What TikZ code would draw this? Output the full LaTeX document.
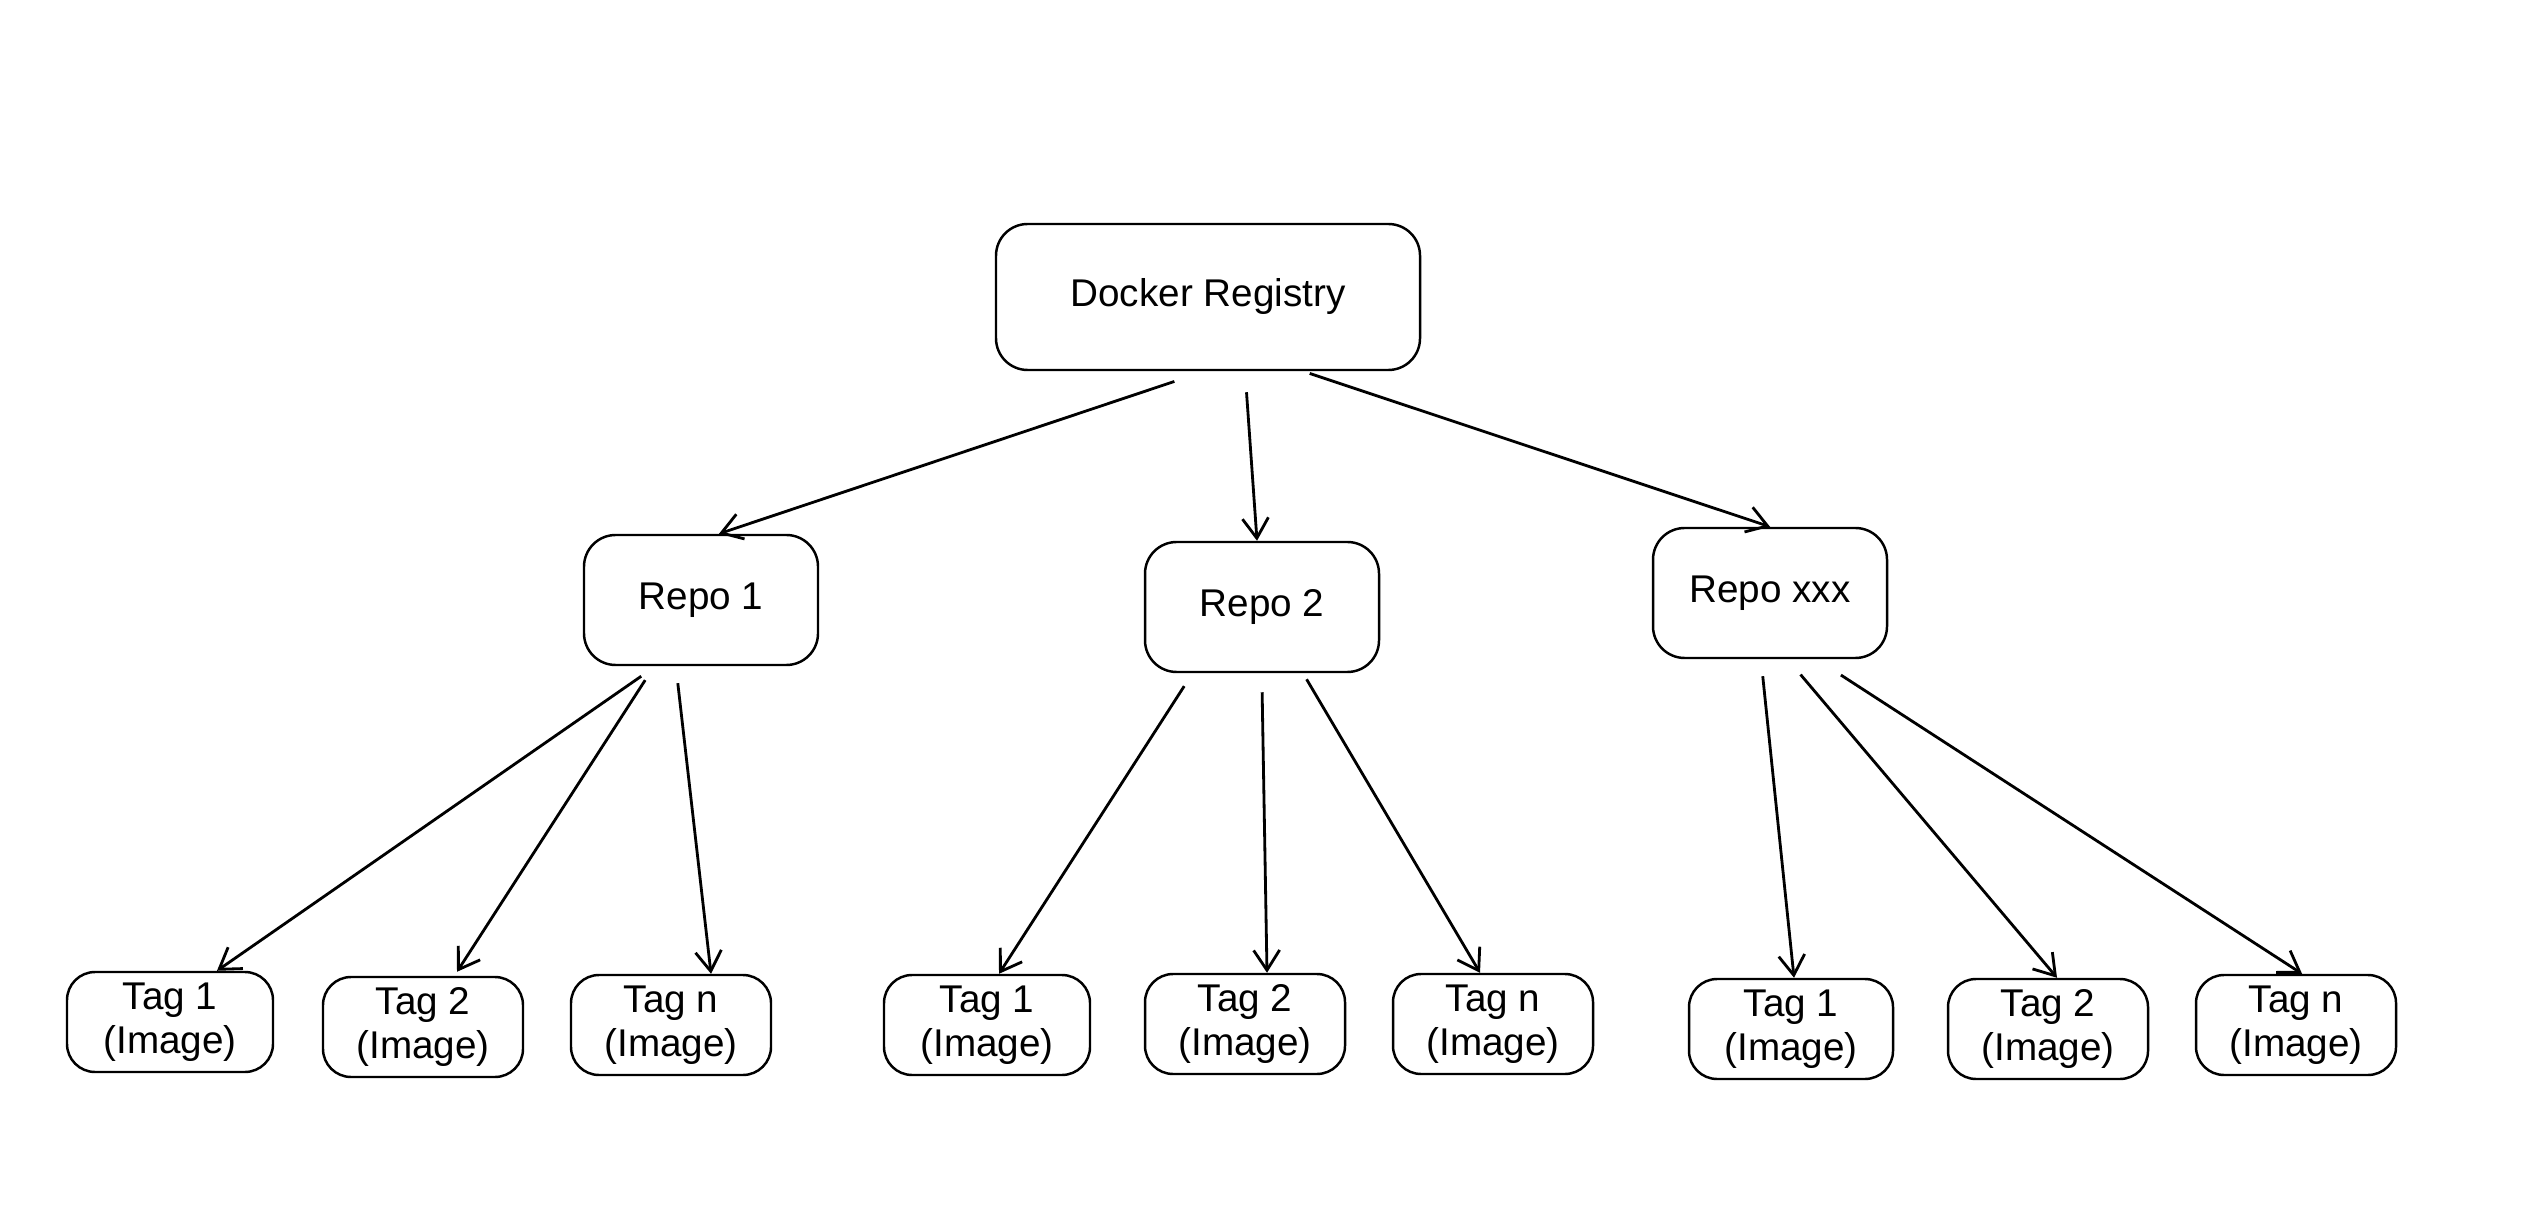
\documentclass[tikz,border=0pt]{standalone}
\usepackage{fontspec}
\setmainfont{Liberation Sans}
\usetikzlibrary{arrows.meta}
\tikzset{
  box/.style={draw, line width=0.7pt, rounded corners=9pt, align=center,
    font=\fontsize{11}{12.5}\selectfont},
  repobox/.style={box, minimum width=2.34cm, minimum height=1.3cm},
  tagbox/.style={box, rounded corners=8pt, minimum width=2cm, minimum height=1cm, inner sep=1pt,
    execute at begin node=\rule{0pt}{10.8pt}},
  arr/.style={-{Straight Barb[length=2mm,width=2.6mm]}, line width=0.8pt, shorten <=2pt}
}
\begin{document}
\begin{tikzpicture}
\useasboundingbox (0,0) rectangle (25.44,-12.28);
\node[box, minimum width=4.24cm, minimum height=1.46cm] (reg) at (12.08,-2.97) {Docker Registry};
\node[repobox] (repoa) at (7.01,-6.00) {Repo 1};
\node[repobox] (repob) at (12.62,-6.07) {Repo 2};
\node[repobox] (repox) at (17.70,-5.93) {Repo xxx};
% tags of repo 1
\node[tagbox, minimum width=2.06cm] (taga1) at (1.70,-10.22) {Tag 1\\(Image)};
\node[tagbox] (taga2) at (4.23,-10.27) {Tag 2\\(Image)};
\node[tagbox] (tagan) at (6.71,-10.25) {Tag n\\(Image)};
% tags of repo 2
\node[tagbox, minimum width=2.06cm] (tagb1) at (9.87,-10.25) {Tag 1\\(Image)};
\node[tagbox] (tagb2) at (12.45,-10.24) {Tag 2\\(Image)};
\node[tagbox] (tagbn) at (14.93,-10.24) {Tag n\\(Image)};
% tags of repo xxx
\node[tagbox, minimum width=2.04cm] (tagx1) at (17.91,-10.29) {Tag 1\\(Image)};
\node[tagbox] (tagx2) at (20.48,-10.29) {Tag 2\\(Image)};
\node[tagbox] (tagxn) at (22.96,-10.25) {Tag n\\(Image)};
\draw[arr] ([xshift=-0.27cm,yshift=-0.08cm]reg.south) -- ([xshift=0.18cm]repoa.north);
\draw[arr] ([xshift=0.38cm,yshift=-0.14cm]reg.south) -- ([xshift=-0.05cm]repob.north);
\draw[arr] ([xshift=0.95cm]reg.south) -- (repox.north);
\draw[arr] ([xshift=-0.54cm,yshift=-0.06cm]repoa.south) -- ([xshift=0.47cm]taga1.north);
\draw[arr] ([xshift=-0.52cm,yshift=-0.08cm]repoa.south) -- ([xshift=0.34cm,yshift=0.04cm]taga2.north);
\draw[arr] ([xshift=-0.24cm,yshift=-0.1cm]repoa.south) -- ([xshift=0.4cm]tagan.north);
\draw[arr] ([xshift=-0.74cm,yshift=-0.07cm]repob.south) -- ([xshift=0.12cm]tagb1.north);
\draw[arr] ([yshift=-0.12cm]repob.south) -- ([xshift=0.22cm]tagb2.north);
\draw[arr] ([xshift=0.41cm]repob.south) -- ([xshift=-0.13cm]tagbn.north);
\draw[arr] ([xshift=-0.08cm,yshift=-0.1cm]repox.south) -- ([xshift=0.03cm]tagx1.north);
\draw[arr] ([xshift=0.26cm,yshift=-0.1cm]repox.south) -- ([xshift=0.09cm]tagx2.north);
\draw[arr] ([xshift=0.65cm,yshift=-0.12cm]repox.south) -- ([xshift=0.06cm]tagxn.north);
\end{tikzpicture}
\end{document}
